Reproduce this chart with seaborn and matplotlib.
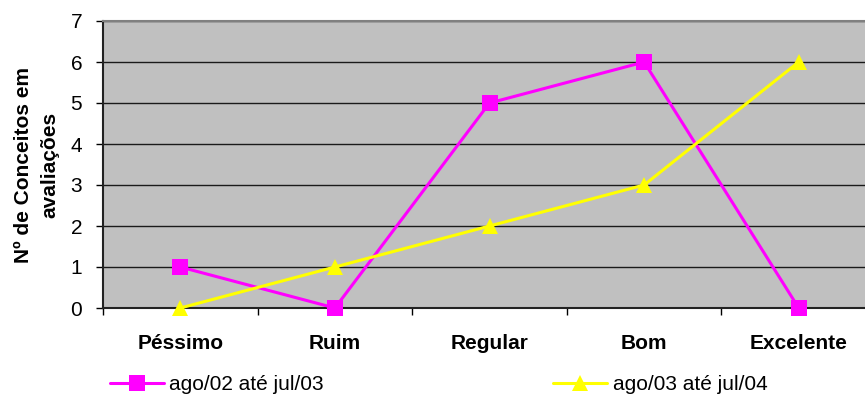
import matplotlib
matplotlib.use("Agg")
import matplotlib.pyplot as plt
import seaborn as sns
import pandas as pd
import numpy as np
from matplotlib.ticker import FixedLocator

categorias = ["Péssimo", "Ruim", "Regular", "Bom", "Excelente"]
serie_1_nome = "ago/02 até jul/03"
serie_1 = [1, 0, 5, 6, 0]
serie_2_nome = "ago/03 até jul/04"
serie_2 = [0, 1, 2, 3, 6]
y_ticks = [0, 1, 2, 3, 4, 5, 6, 7]

sns.set_theme(style="white")
plt.rcParams["font.family"] = ["Liberation Sans", "DejaVu Sans"]
plt.rcParams["text.color"] = "black"
plt.rcParams["xtick.color"] = "black"
plt.rcParams["ytick.color"] = "black"

df = pd.DataFrame({
    "pos": list(range(len(categorias))) * 2,
    "valor": serie_1 + serie_2,
    "periodo": [serie_1_nome] * len(categorias) + [serie_2_nome] * len(categorias),
})

fig = plt.figure(figsize=(8.65, 3.97), dpi=100)
W, H = 865, 397
ax = fig.add_axes([103 / W, 1 - 308 / H, (876 - 103) / W, (308 - 21) / H])
ax.set_facecolor("#C0C0C0")

cores = {serie_1_nome: "#FF00FF", serie_2_nome: "#FFFF00"}
marcadores = {serie_1_nome: "s", serie_2_nome: "^"}
sns.lineplot(data=df, x="pos", y="valor", hue="periodo", style="periodo",
             palette=cores, markers=marcadores, dashes=False,
             linewidth=2.2, markersize=11.5, markeredgewidth=0,
             ax=ax, legend=False, clip_on=False, zorder=5)

ax.set_xlim(-0.5, len(categorias) - 0.5)
ax.set_ylim(0, 7)
ax.set_yticks(y_ticks)
ax.yaxis.grid(True, color="#1a1a1a", linewidth=1.0)
ax.set_axisbelow(True)

ax.set_xticks(range(len(categorias)))
ax.set_xticklabels(categorias, fontsize=15, fontweight="bold", color="black")
ax.xaxis.set_minor_locator(FixedLocator(np.arange(-0.5, len(categorias), 1.0)))
ax.tick_params(axis="x", which="major", length=0, pad=19)
ax.tick_params(axis="x", which="minor", length=5, width=1, color="#000000", direction="out", bottom=True)
ax.tick_params(axis="y", length=5, width=1, color="#000000", direction="out", left=True, pad=10,
               labelsize=15, labelcolor="black")

for s in ["left", "bottom"]:
    ax.spines[s].set_color("#222222")
    ax.spines[s].set_linewidth(1.5)
ax.spines["top"].set_color("#808080")
ax.spines["top"].set_linewidth(1.5)
ax.spines["right"].set_visible(False)

ax.set_xlabel("")
ax.set_ylabel("")
fig.text(37 / W, 1 - 165 / H, "Nº de Conceitos em\navaliações", rotation=90,
         ha="center", va="center", fontsize=15, fontweight="bold", linespacing=1.5,
         color="black")

handles = [
    plt.Line2D([], [], color="#FF00FF", marker="s", linewidth=2.2, markersize=11.5, markeredgewidth=0),
    plt.Line2D([], [], color="#FFFF00", marker="^", linewidth=2.2, markersize=11.5, markeredgewidth=0),
]
fig.legend(handles, [serie_1_nome, serie_2_nome], ncol=2, frameon=False,
           loc="center left", bbox_to_anchor=(110 / W, 1 - 385 / H),
           borderpad=0, borderaxespad=0, handlelength=2.6, handletextpad=0.25,
           columnspacing=11.0, fontsize=15)

fig.savefig("out.png", dpi=100)
